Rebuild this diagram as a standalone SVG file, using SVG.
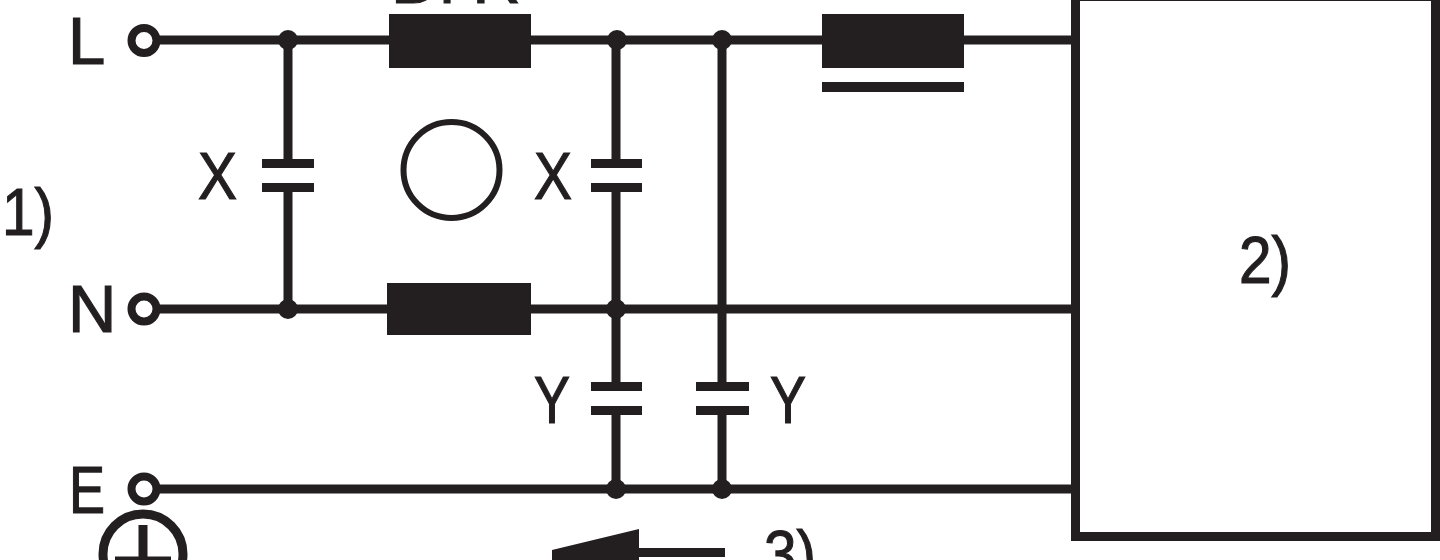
<svg xmlns="http://www.w3.org/2000/svg" width="1440" height="560" viewBox="0 0 1440 560">
<style>
.w{fill:none;stroke:#231f20;stroke-width:9}
.f{fill:#231f20}
.t{fill:#231f20;stroke:#231f20;stroke-width:1.2;font-family:"Liberation Sans",Arial,sans-serif;font-size:67px}
.p{fill:#fff;stroke:#231f20;stroke-width:8}
.o{fill:none;stroke:#231f20;stroke-width:6}
</style>
<rect width="1440" height="560" fill="#fff"/>
<g id="connectors">
<path class="w" d="M158 40H1075M158 309H1075M158 489H1075"/>
<path class="w" d="M288 40V162M288 188V309"/>
<path class="w" d="M616 40V162M616 188V385M616 411V489"/>
<path class="w" d="M722 40V385M722 411V489"/>
</g>
<g id="junctions" class="f">
<circle cx="288" cy="40" r="10"/><circle cx="617" cy="40" r="10"/><circle cx="722" cy="40" r="10"/>
<circle cx="288" cy="309" r="10"/><circle cx="616" cy="309" r="10"/>
<circle cx="616" cy="489" r="10"/><circle cx="722" cy="489" r="10"/>
</g>
<g id="terminal-L"><circle class="p" cx="144" cy="40.500" r="12.500"/><text class="t" x="68" y="64">L</text></g>
<g id="terminal-N"><circle class="p" cx="144" cy="309" r="12.500"/><text class="t" x="68" y="332">N</text></g>
<g id="terminal-E"><circle class="p" cx="144" cy="489" r="12.500"/><text class="t" x="69" y="513" textLength="36" lengthAdjust="spacingAndGlyphs">E</text></g>
<g id="earth"><circle class="w" cx="143" cy="554" r="40"/><path class="w" d="M143 525V565M115 561H171"/></g>
<g id="label-1"><text class="t" x="2" y="235" textLength="52" lengthAdjust="spacingAndGlyphs">1)</text></g>
<g id="choke-L"><rect class="f" x="389" y="14" width="142" height="54"/><text class="t" x="391" y="3" style="word-spacing:-8px">Dr R</text></g>
<g id="choke-N"><rect class="f" x="387" y="283" width="144" height="52"/></g>
<g id="core"><circle class="o" cx="451.500" cy="170" r="48"/></g>
<g id="inductor"><rect class="f" x="822" y="14" width="142" height="54"/><rect class="f" x="822" y="82" width="142" height="10"/></g>
<g id="cx1"><g class="f"><rect x="262" y="159" width="52" height="9"/><rect x="262" y="183" width="52" height="9"/></g>
<text class="t" x="198" y="199" textLength="39" lengthAdjust="spacingAndGlyphs">X</text></g>
<g id="cx2"><g class="f"><rect x="591" y="159" width="51" height="9"/><rect x="591" y="183" width="51" height="9"/></g>
<text class="t" x="534" y="199" textLength="38" lengthAdjust="spacingAndGlyphs">X</text></g>
<g id="cy1"><g class="f"><rect x="591" y="382" width="51" height="9"/><rect x="591" y="406" width="51" height="9"/></g>
<text class="t" x="534" y="423" textLength="36" lengthAdjust="spacingAndGlyphs">Y</text></g>
<g id="cy2"><g class="f"><rect x="696" y="382" width="53" height="9"/><rect x="696" y="406" width="53" height="9"/></g>
<text class="t" x="770" y="423" textLength="36" lengthAdjust="spacingAndGlyphs">Y</text></g>
<g id="block"><rect x="1075.500" y="-3.500" width="360" height="540" fill="none" stroke="#231f20" stroke-width="9"/><text class="t" x="1239" y="283" textLength="52" lengthAdjust="spacingAndGlyphs">2)</text></g>
<g id="arrow"><path class="f" d="M552 550L639 529V560H552Z"/><rect class="f" x="639" y="548" width="86" height="9"/><text class="t" x="764" y="577" textLength="52" lengthAdjust="spacingAndGlyphs">3)</text></g>
</svg>
